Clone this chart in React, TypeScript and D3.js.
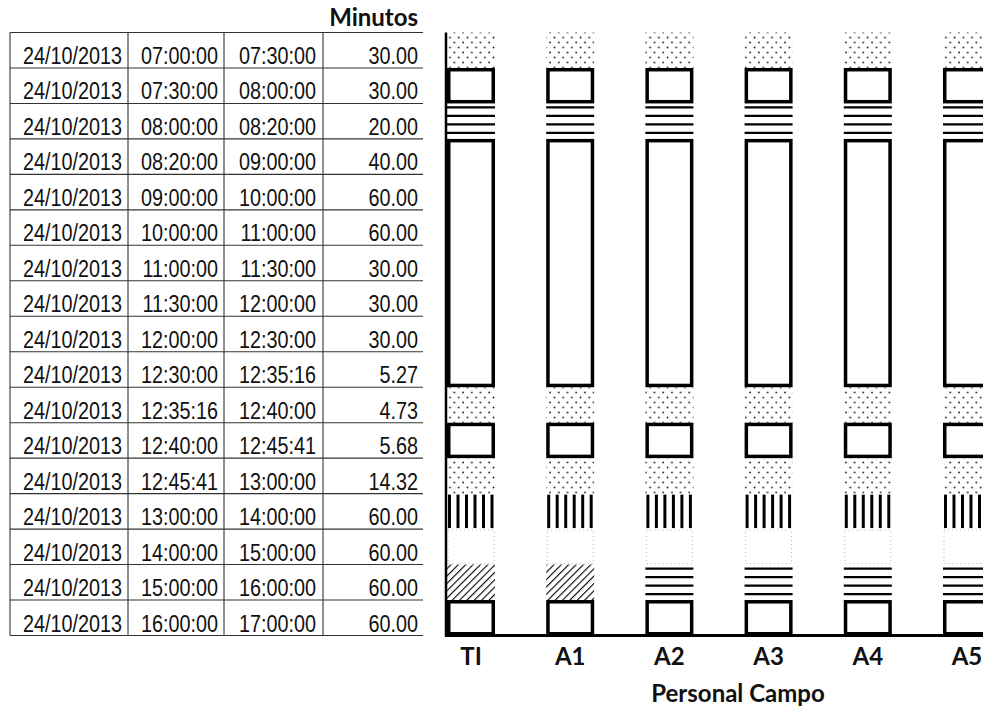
import React from 'react';
import * as d3 from 'd3';

// Registro de actividades del 24/10/2013
const fechas = [
  '24/10/2013', '24/10/2013', '24/10/2013', '24/10/2013', '24/10/2013', '24/10/2013',
  '24/10/2013', '24/10/2013', '24/10/2013', '24/10/2013', '24/10/2013', '24/10/2013',
  '24/10/2013', '24/10/2013', '24/10/2013', '24/10/2013', '24/10/2013',
];
const horaInicio = [
  '07:00:00', '07:30:00', '08:00:00', '08:20:00', '09:00:00', '10:00:00', '11:00:00',
  '11:30:00', '12:00:00', '12:30:00', '12:35:16', '12:40:00', '12:45:41', '13:00:00',
  '14:00:00', '15:00:00', '16:00:00',
];
const horaFin = [
  '07:30:00', '08:00:00', '08:20:00', '09:00:00', '10:00:00', '11:00:00', '11:30:00',
  '12:00:00', '12:30:00', '12:35:16', '12:40:00', '12:45:41', '13:00:00', '14:00:00',
  '15:00:00', '16:00:00', '17:00:00',
];
const minutos = [30, 30, 20, 40, 60, 60, 30, 30, 30, 5.27, 4.73, 5.68, 14.32, 60, 60, 60, 60];

const personal = ['TI', 'A1', 'A2', 'A3', 'A4', 'A5'];

// Códigos: E = espera, T = trabajo, D = desplazamiento, R = refrigerio, L = libre, C = carga
const actividadSupervision = ['E', 'T', 'D', 'T', 'T', 'T', 'T', 'T', 'T', 'T', 'E', 'T', 'E', 'R', 'L', 'C', 'T'];
const actividadCuadrilla = ['E', 'T', 'D', 'T', 'T', 'T', 'T', 'T', 'T', 'T', 'E', 'T', 'E', 'R', 'L', 'D', 'T'];
const actividades: Record<string, string[]> = {
  TI: actividadSupervision,
  A1: actividadSupervision,
  A2: actividadCuadrilla,
  A3: actividadCuadrilla,
  A4: actividadCuadrilla,
  A5: actividadCuadrilla,
};

type Tramo = { tipo: string; desde: number; hasta: number };

// Agrupa filas consecutivas con la misma actividad
function tramos(acts: string[]): Tramo[] {
  const out: Tramo[] = [];
  let start = 0;
  for (let i = 1; i <= acts.length; i++) {
    if (i === acts.length || acts[i] !== acts[start]) {
      out.push({ tipo: acts[start], desde: start, hasta: i - 1 });
      start = i;
    }
  }
  return out;
}

const W = 983;
const H = 708;

export default function App() {
  const filas = d3.range(horaInicio.length);
  const y = d3.scaleBand<number>().domain(filas).range([32.5, 635.5]);
  const x = d3.scaleBand<string>().domain(personal).range([447, 991]).paddingInner(0.516).paddingOuter(0);
  const bw = x.bandwidth();
  const rh = y.bandwidth();

  const yBase = y.range()[1];
  const xAxis = x.range()[0] - 1;

  const tableFont = 'Liberation Sans, Arial, sans-serif';
  const boldFont = 'Lato, Open Sans, sans-serif';
  const sx = 0.825;

  const colRight = [122, 218, 316, 418];
  const colLines = [10, 128, 224, 323];

  const celda = (txt: string, xr: number, i: number, key: string) => (
    <text
      key={key}
      transform={`translate(${xr},${(y(i) as number) + rh - 4}) scale(${sx},1)`}
      textAnchor="end"
      fontFamily={tableFont}
      fontSize={24}
      fill="#111"
    >
      {txt}
    </text>
  );

  const marcas: React.ReactNode[] = [];
  personal.forEach((p) => {
    const x0 = x(p) as number;
    tramos(actividades[p]).forEach((t, j) => {
      const y0 = y(t.desde) as number;
      const y1 = (y(t.hasta) as number) + rh;
      const k = `${p}-${j}`;
      if (t.tipo === 'E') {
        marcas.push(<rect key={k} x={x0} y={y0} width={bw} height={y1 - y0} fill="url(#puntos)" />);
      } else if (t.tipo === 'T') {
        const sw = 3.5;
        marcas.push(
          <rect key={k} x={x0 + sw / 2} y={y0 + sw / 2} width={bw - sw} height={y1 - y0 - sw}
            fill="#fff" stroke="#000" strokeWidth={sw} />
        );
      } else if (t.tipo === 'D') {
        d3.range(t.desde, t.hasta + 1).forEach((r) => {
          d3.range(4).forEach((q) => {
            const yy = (y(r) as number) + 4 + q * 8.5;
            marcas.push(
              <line key={`${k}-${r}-${q}`} x1={x0} x2={x0 + bw} y1={yy} y2={yy} stroke="#000" strokeWidth={2.3} />
            );
          });
        });
      } else if (t.tipo === 'R') {
        d3.range(6).forEach((q) => {
          const xx = x0 + 2.5 + q * 8.5;
          marcas.push(
            <line key={`${k}-${q}`} x1={xx} x2={xx} y1={y0 + 1} y2={y1 - 1} stroke="#000" strokeWidth={3} />
          );
        });
      } else if (t.tipo === 'L') {
        marcas.push(
          <rect key={k} x={x0 + 1} y={y0 + 1} width={bw - 2} height={y1 - y0 - 2}
            fill="#fff" stroke="#999" strokeWidth={1} strokeDasharray="1 3" opacity={0.7} />
        );
      } else if (t.tipo === 'C') {
        marcas.push(<rect key={k} x={x0} y={y0} width={bw} height={y1 - y0} fill="url(#diagonal)" />);
      }
    });
  });

  return (
    <svg width={W} height={H} style={{ position: 'absolute', left: 0, top: 0, background: '#fff' }}>
      <defs>
        <pattern id="puntos" patternUnits="userSpaceOnUse" width={8.7} height={10}>
          <circle cx={2} cy={2.5} r={0.9} fill="#222" />
          <circle cx={6.35} cy={7.5} r={0.9} fill="#222" />
        </pattern>
        <pattern id="diagonal" patternUnits="userSpaceOnUse" width={5.2} height={5.2} patternTransform="rotate(45)">
          <line x1={0} y1={0} x2={0} y2={5.2} stroke="#000" strokeWidth={2.2} />
        </pattern>
      </defs>
      <rect x={0} y={0} width={W} height={H} fill="#fff" />

      {/* Tabla */}
      <text x={418} y={26} textAnchor="end" fontFamily={boldFont} fontWeight={700} fontSize={24} fill="#111">
        Minutos
      </text>
      {d3.range(filas.length + 1).map((i) => {
        const yy = i < filas.length ? (y(i) as number) : yBase;
        return <line key={`h${i}`} x1={10} x2={423} y1={yy} y2={yy} stroke="#333" strokeWidth={1.1} />;
      })}
      {colLines.map((cx, i) => (
        <line key={`v${i}`} x1={cx} x2={cx} y1={y.range()[0]} y2={yBase} stroke="#333" strokeWidth={1.1} />
      ))}
      {filas.map((i) => (
        <g key={`f${i}`}>
          {celda(fechas[i], colRight[0], i, 'a')}
          {celda(horaInicio[i], colRight[1], i, 'b')}
          {celda(horaFin[i], colRight[2], i, 'c')}
          {celda(minutos[i].toFixed(2), colRight[3], i, 'd')}
        </g>
      ))}

      {/* Barras de actividades */}
      {marcas}

      {/* Ejes */}
      <line x1={xAxis} x2={xAxis} y1={y.range()[0]} y2={yBase + 1} stroke="#000" strokeWidth={2.5} />
      <line x1={xAxis - 1} x2={W} y1={yBase} y2={yBase} stroke="#000" strokeWidth={3} />
      {personal.map((p) => (
        <text key={`l${p}`} x={(x(p) as number) + bw / 2} y={665} textAnchor="middle"
          fontFamily={boldFont} fontWeight={700} fontSize={24} fill="#111">
          {p}
        </text>
      ))}
      <text x={738} y={702} textAnchor="middle" fontFamily={boldFont} fontWeight={700} fontSize={24} fill="#111">
        Personal Campo
      </text>
    </svg>
  );
}
